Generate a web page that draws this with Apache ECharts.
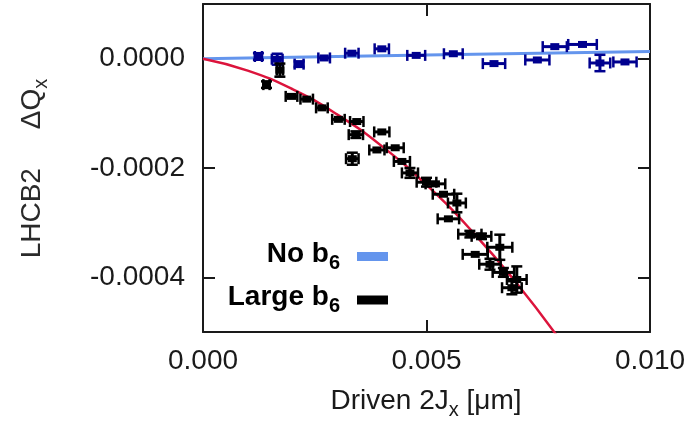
<!DOCTYPE html>
<html>
<head>
<meta charset="utf-8">
<script src="https://cdn.jsdelivr.net/npm/echarts@6/dist/echarts.min.js"></script>
<style>
html,body{margin:0;padding:0;background:#fff;}
#chart{width:690px;height:422px;}
</style>
</head>
<body>
<div id="chart"></div>
<script>
// ---- data ----
var xTickValues = [0, 0.005, 0.010];
var xTickLabels = ['0.000', '0.005', '0.010'];
var yTickValues = [0, -0.0002, -0.0004];
var yTickLabels = ['0.0000', '-0.0002', '-0.0004'];
var legendNames = ['No b6', 'Large b6'];

// No b6 measurements (navy points)
var blueX    = [0.00124, 0.00166, 0.00215, 0.00271, 0.00333, 0.00400, 0.00477, 0.00560, 0.00651, 0.00748, 0.00787, 0.00849, 0.00888, 0.00944];
var blueY    = [0.000004, -0.000001, -0.000010, 0.0000013, 0.000010, 0.000018, 0.000006, 0.000009, -0.000009, -0.0000024, 0.000022, 0.000026, -0.0000079, -0.000006];
var blueXerr = [0.00008, 0.00012, 0.00010, 0.00013, 0.00015, 0.00016, 0.00020, 0.00021, 0.00025, 0.00027, 0.00027, 0.00032, 0.00023, 0.00026];
var blueYerr = [0.000006, 0.00001, 0.000005, 0, 0, 0, 0, 0, 0, 0, 0, 0, 0.000015, 0];

// Large b6 measurements (black points)
var blackX    = [0.00142, 0.00172, 0.00198, 0.00232, 0.00266, 0.00303, 0.00344, 0.00342, 0.00400, 0.00334, 0.00389, 0.00430, 0.00445, 0.00463, 0.00500, 0.00520, 0.00538, 0.00568, 0.00549, 0.00597, 0.00623, 0.00609, 0.00664, 0.00642, 0.00672, 0.00702, 0.00691];
var blackY    = [-0.0000475, -0.000021, -0.000069, -0.000074, -0.000090, -0.000111, -0.000115, -0.000139, -0.000134, -0.000183, -0.000167, -0.000163, -0.000188, -0.000209, -0.000226, -0.000229, -0.000248, -0.000264, -0.000293, -0.000321, -0.000325, -0.000358, -0.000345, -0.000376, -0.000391, -0.000404, -0.000419];
var blackXerr = [0.00007, 0.00007, 0.00013, 0.00014, 0.00013, 0.00014, 0.00015, 0.00016, 0.00017, 0.00014, 0.00017, 0.00019, 0.00018, 0.00018, 0.00022, 0.00022, 0.00024, 0.00020, 0.00024, 0.00026, 0.00022, 0.00028, 0.00028, 0.00024, 0.00024, 0.00022, 0.00022];
var blackYerr = [0.000006, 0.000012, 0, 0, 0, 0, 0, 0.000006, 0, 0.000011, 0, 0, 0, 0.000009, 0.000008, 0, 0, 0.000017, 0, 0.000006, 0.000005, 0, 0.000023, 0.00001, 0.000008, 0.000024, 0.000012];

// fitted curves
var blueLineX = [0, 0.005, 0.010];
var blueLineY = [0, 0.0000065, 0.000013];
var redLineX  = [0, 0.001, 0.002, 0.003, 0.004, 0.005, 0.006, 0.007, 0.008];
var redLineY  = [0, -0.0000218, -0.0000558, -0.000102, -0.000160, -0.000231, -0.000314, -0.000409, -0.000516];

// ---- chart ----
var FONT = 'Liberation Sans';
var TXT = '#1a1a1a';

function zip2(a, b) { return a.map(function (v, i) { return [v, b[i]]; }); }
function zip4(a, b, c, d) { return a.map(function (v, i) { return [v, b[i], c[i], d[i]]; }); }

function errRenderer(color) {
  return function (params, api) {
    var x = api.value(0), y = api.value(1), xe = api.value(2), ye = api.value(3);
    var c = api.coord([x, y]);
    var l = api.coord([x - xe, y]);
    var r = api.coord([x + xe, y]);
    var bar = { stroke: color, lineWidth: 3, fill: null };
    var st = { stroke: color, lineWidth: 2.5, fill: null };
    var cap = 5.5;
    var ch = [];
    ch.push({ type: 'line', shape: { x1: l[0], y1: c[1], x2: r[0], y2: c[1] }, style: bar });
    ch.push({ type: 'line', shape: { x1: l[0], y1: c[1] - cap, x2: l[0], y2: c[1] + cap }, style: st });
    ch.push({ type: 'line', shape: { x1: r[0], y1: c[1] - cap, x2: r[0], y2: c[1] + cap }, style: st });
    if (ye > 0) {
      var t = api.coord([x, y + ye]);
      var b = api.coord([x, y - ye]);
      ch.push({ type: 'line', shape: { x1: c[0], y1: t[1], x2: c[0], y2: b[1] }, style: bar });
      ch.push({ type: 'line', shape: { x1: c[0] - cap, y1: t[1], x2: c[0] + cap, y2: t[1] }, style: st });
      ch.push({ type: 'line', shape: { x1: c[0] - cap, y1: b[1], x2: c[0] + cap, y2: b[1] }, style: st });
    }
    ch.push({ type: 'rect', shape: { x: c[0] - 4.5, y: c[1] - 3.5, width: 9, height: 7 }, style: { fill: color } });
    return { type: 'group', children: ch };
  };
}

function legendFmt(name) {
  var base = name.slice(0, -1), sub = name.slice(-1);
  return '{b|' + base + '}{s|' + sub + '}{sp|\u00a0}';
}
var legendRich = {
  b: { fontFamily: FONT, fontSize: 28, fontWeight: 'bold', color: '#000', lineHeight: 28, verticalAlign: 'top' },
  s: { fontFamily: FONT, fontSize: 20, fontWeight: 'bold', color: '#000', lineHeight: 20, verticalAlign: 'bottom' },
  sp: { fontFamily: FONT, fontSize: 10, lineHeight: 33, width: 12 }
};

var chart = echarts.init(document.getElementById('chart'), null, { renderer: 'canvas' });
var option = {
  animation: false,
  backgroundColor: '#fff',
  grid: { left: 203, right: 40, top: 4, bottom: 90, outerBoundsMode: 'none', containLabel: false },
  legend: [
    {
      data: [{ name: legendNames[0], icon: 'rect', itemStyle: { color: '#6495ED' } }],
      right: 302, top: 240, padding: 0, align: 'right', itemWidth: 31, itemHeight: 9,
      selectedMode: false, formatter: legendFmt, textStyle: { rich: legendRich }
    },
    {
      data: [{ name: legendNames[1], icon: 'rect', itemStyle: { color: '#000' } }],
      right: 302, top: 283.5, padding: 0, align: 'right', itemWidth: 31, itemHeight: 9,
      selectedMode: false, formatter: legendFmt, textStyle: { rich: legendRich }
    }
  ],
  xAxis: [
    {
      type: 'value', min: 0, max: 0.010, interval: 0.005, position: 'bottom',
      name: '{n|Driven 2J}{s|x}{n| [\u03bcm]}{sp|\u00a0}', nameLocation: 'middle', nameGap: 55,
      nameTextStyle: { rich: {
        n: { fontFamily: FONT, fontSize: 28, color: TXT, lineHeight: 28, verticalAlign: 'top' },
        s: { fontFamily: FONT, fontSize: 20, color: TXT, lineHeight: 20, verticalAlign: 'bottom' },
        sp: { fontSize: 10, lineHeight: 33, width: 1 }
      } },
      axisLine: { show: true, onZero: false, lineStyle: { color: TXT, width: 2 } },
      axisTick: { show: true, inside: true, length: 12, lineStyle: { color: TXT, width: 2 } },
      axisLabel: {
        show: true, margin: 15, fontFamily: FONT, fontSize: 28, color: TXT,
        showMinLabel: true, showMaxLabel: true, hideOverlap: false,
        formatter: function (v) { var i = xTickValues.findIndex(function (t) { return Math.abs(t - v) < 1e-9; }); return i >= 0 ? xTickLabels[i] : ''; }
      },
      splitLine: { show: false }
    },
    {
      type: 'value', min: 0, max: 0.010, interval: 0.005, position: 'top',
      axisLine: { show: true, onZero: false, lineStyle: { color: TXT, width: 2 } },
      axisTick: { show: true, inside: true, length: 12, lineStyle: { color: TXT, width: 2 } },
      axisLabel: { show: false }, splitLine: { show: false }
    }
  ],
  yAxis: [
    {
      type: 'value', min: -0.0005, max: 0.0001, interval: 0.0001, position: 'left',
      name: '{n|LHCB2     \u0394Q}{s|x}{sp|\u00a0}', nameLocation: 'middle', nameGap: 152, nameRotate: 90,
      nameTextStyle: { rich: {
        n: { fontFamily: FONT, fontSize: 28, color: '#2a2a2a', lineHeight: 28, verticalAlign: 'top' },
        s: { fontFamily: FONT, fontSize: 20, color: '#2a2a2a', lineHeight: 20, verticalAlign: 'bottom' },
        sp: { fontSize: 10, lineHeight: 33, width: 1 }
      } },
      axisLine: { show: true, onZero: false, lineStyle: { color: TXT, width: 2 } },
      axisTick: { show: true, inside: true, length: 12, customValues: yTickValues, lineStyle: { color: TXT, width: 2 } },
      axisLabel: {
        show: true, margin: 18, fontFamily: FONT, fontSize: 28, color: TXT, customValues: yTickValues,
        formatter: function (v) { var i = yTickValues.findIndex(function (t) { return Math.abs(t - v) < 1e-12; }); return i >= 0 ? yTickLabels[i] : ''; }
      },
      splitLine: { show: false }
    },
    {
      type: 'value', min: -0.0005, max: 0.0001, interval: 0.0001, position: 'right',
      axisLine: { show: true, onZero: false, lineStyle: { color: TXT, width: 2 } },
      axisTick: { show: true, inside: true, length: 12, customValues: yTickValues, lineStyle: { color: TXT, width: 2 } },
      axisLabel: { show: false }, splitLine: { show: false }
    }
  ],
  series: [
    {
      name: legendNames[0], type: 'line', xAxisIndex: 0, yAxisIndex: 0,
      data: zip2(blueLineX, blueLineY), showSymbol: false, symbol: 'none',
      lineStyle: { color: '#6495ED', width: 3 }, itemStyle: { color: '#6495ED' }, z: 2, clip: true
    },
    {
      name: 'fit', type: 'line', xAxisIndex: 0, yAxisIndex: 0,
      data: zip2(redLineX, redLineY), showSymbol: false, symbol: 'none', smooth: true,
      lineStyle: { color: '#DC143C', width: 2.5 }, itemStyle: { color: '#DC143C' }, z: 2, clip: true
    },
    {
      name: 'No b6 data', type: 'custom', xAxisIndex: 0, yAxisIndex: 0,
      data: zip4(blueX, blueY, blueXerr, blueYerr), encode: { x: 0, y: 1 },
      renderItem: errRenderer('#00008f'), itemStyle: { color: '#00008f' }, z: 3
    },
    {
      name: legendNames[1], type: 'custom', xAxisIndex: 0, yAxisIndex: 0,
      data: zip4(blackX, blackY, blackXerr, blackYerr), encode: { x: 0, y: 1 },
      renderItem: errRenderer('#000000'), itemStyle: { color: '#000000' }, z: 3
    }
  ]
};
chart.setOption(option);
</script>
</body>
</html>
